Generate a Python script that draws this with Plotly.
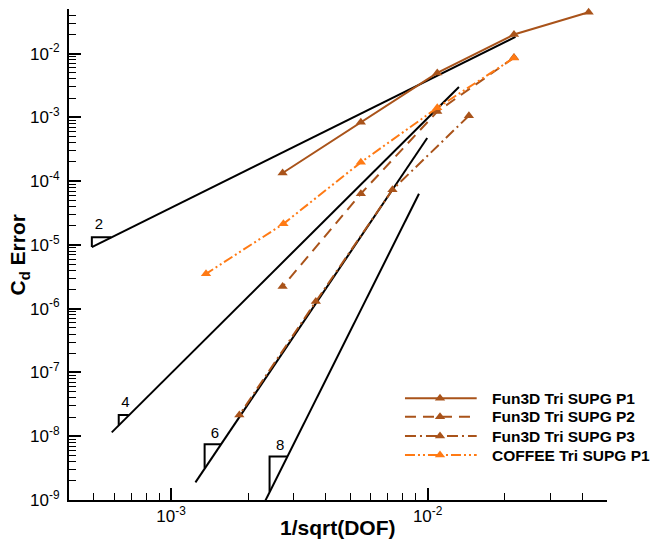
import numpy as np
import plotly.graph_objects as go

# 1/sqrt(DOF) and C_d error for each discretisation
fun3d_p1_h = [0.0424, 0.0217, 0.0109, 0.00549, 0.00272]
fun3d_p1_err = [4.45e-2, 1.99e-2, 4.98e-3, 8.35e-4, 1.34e-4]

fun3d_p2_h = [0.0217, 0.0109, 0.00549, 0.00272]
fun3d_p2_err = [8.65e-3, 1.23e-3, 6.34e-5, 2.22e-6]

fun3d_p3_h = [0.01448, 0.00729, 0.003665, 0.001845]
fun3d_p3_err = [1.06e-3, 7.33e-5, 1.29e-6, 2.15e-8]

coffee_p1_h = [0.0217, 0.0109, 0.00549, 0.00274, 0.001368]
coffee_p1_err = [8.56e-3, 1.41e-3, 1.97e-4, 2.14e-5, 3.52e-6]

series_names = ["Fun3D Tri SUPG P1", "Fun3D Tri SUPG P2",
                "Fun3D Tri SUPG P3", "COFFEE Tri SUPG P1"]

# reference slope lines (orders 2, 4, 6, 8) with their slope triangles
slope_orders = ["2", "4", "6", "8"]
slope_line_h = [[4.91e-4, 0.02199], [5.87e-4, 0.01324],
                [1.244e-3, 9.96e-3], [2.328e-3, 9.25e-3]]
slope_line_err = [[9.23e-6, 1.828e-2], [1.15e-8, 3.0e-3],
                  [1.89e-9, 4.75e-4], [9.7e-10, 6.34e-5]]
slope_tri_h = [[4.91e-4, 4.91e-4, 5.84e-4], [6.25e-4, 6.25e-4, 6.84e-4],
               [1.351e-3, 1.351e-3, 1.565e-3], [2.42e-3, 2.42e-3, 2.83e-3]]
slope_tri_err = [[9.23e-6, 1.32e-5, 1.32e-5], [1.48e-8, 2.16e-8, 2.16e-8],
                 [3.15e-9, 7.5e-9, 7.5e-9], [1.35e-9, 4.8e-9, 4.8e-9]]
slope_label_h = [5.23e-4, 6.64e-4, 1.483e-3, 2.66e-3]
slope_label_err = [2.07e-5, 3.28e-8, 1.07e-8, 6.86e-9]

# axis ticks
x_major = [1e-3, 1e-2]
x_major_text = ["10<sup>-3</sup>", "10<sup>-2</sup>"]
y_major = [1e-9, 1e-8, 1e-7, 1e-6, 1e-5, 1e-4, 1e-3, 1e-2]
y_major_text = ["10<sup>-9</sup>", "10<sup>-8</sup>", "10<sup>-7</sup>", "10<sup>-6</sup>",
                "10<sup>-5</sup>", "10<sup>-4</sup>", "10<sup>-3</sup>", "10<sup>-2</sup>"]
x_minor = [m * 1e-4 for m in range(5, 10)] + [m * 1e-3 for m in range(2, 10)] + \
          [m * 1e-2 for m in range(2, 6)]
y_minor = [m * 10.0 ** k for k in range(-9, -2) for m in range(2, 10)] + \
          [m * 1e-2 for m in range(2, 6)]

BROWN = "#A9531A"
ORANGE = "#FF7A14"
FONT = "Liberation Sans, Arial, Helvetica, sans-serif"

styles = [
    dict(color=BROWN, dash="solid"),
    dict(color=BROWN, dash="11px,7px"),
    dict(color=BROWN, dash="11px,4px,2px,4px"),
    dict(color=ORANGE, dash="10px,3px,2px,3px,2px,3px"),
]
series = [(fun3d_p1_h, fun3d_p1_err), (fun3d_p2_h, fun3d_p2_err),
          (fun3d_p3_h, fun3d_p3_err), (coffee_p1_h, coffee_p1_err)]

fig = go.Figure()

# slope reference lines and triangles
for lh, le, th, te in zip(slope_line_h, slope_line_err, slope_tri_h, slope_tri_err):
    fig.add_trace(go.Scatter(x=lh, y=le, mode="lines",
                             line=dict(color="black", width=2), hoverinfo="skip"))
    fig.add_trace(go.Scatter(x=th, y=te, mode="lines",
                             line=dict(color="black", width=2), hoverinfo="skip"))
fig.add_trace(go.Scatter(x=slope_label_h, y=slope_label_err, mode="text",
                         text=slope_orders, textposition="middle center",
                         textfont=dict(family=FONT, size=15, color="black"),
                         cliponaxis=False, hoverinfo="skip"))

# convergence curves
for (h, e), st, name in zip(series, styles, series_names):
    fig.add_trace(go.Scatter(
        x=h, y=e, mode="lines+markers", name=name,
        line=dict(color=st["color"], width=2, dash=st["dash"]),
        marker=dict(symbol="triangle-up", size=9, color=st["color"]),
        cliponaxis=False))

# legend block drawn on an overlay axis in plot-fraction units
leg_rows = [0.2071, 0.1697, 0.1303, 0.0916]
leg_x0, leg_x1, leg_xm, leg_text_x = 0.6245, 0.7578, 0.6896, 0.7825
for yrow, st, name in zip(leg_rows, styles, series_names):
    fig.add_trace(go.Scatter(
        x=[leg_x0, leg_xm, leg_x1], y=[yrow, yrow, yrow], mode="lines",
        line=dict(color=st["color"], width=2, dash=st["dash"]),
        xaxis="x2", yaxis="y2", hoverinfo="skip"))
    fig.add_trace(go.Scatter(
        x=[leg_xm], y=[yrow], mode="markers",
        marker=dict(symbol="triangle-up", size=9, color=st["color"]),
        xaxis="x2", yaxis="y2", hoverinfo="skip"))
    fig.add_annotation(x=leg_text_x, y=yrow, xref="paper", yref="paper",
                       text="<b>%s</b>" % name, showarrow=False,
                       xanchor="left", yanchor="middle",
                       font=dict(family=FONT, size=15.5, color="black"))

# axis titles
fig.add_annotation(x=0.5, y=-0.055, xref="paper", yref="paper",
                   text="<b>1/sqrt(DOF)</b>", showarrow=False,
                   xanchor="center", yanchor="middle",
                   font=dict(family=FONT, size=21, color="black"))
fig.add_annotation(x=-0.093, y=0.5, xref="paper", yref="paper",
                   text="<b>C<sub>d</sub> Error</b>", showarrow=False, textangle=-90,
                   xanchor="center", yanchor="middle",
                   font=dict(family=FONT, size=21, color="black"))

axis_common = dict(type="log", showline=True, linecolor="black", linewidth=2,
                   showgrid=False, zeroline=False, mirror=False,
                   ticks="inside", ticklen=12, tickwidth=2, tickcolor="black",
                   tickmode="array",
                   tickfont=dict(family=FONT, size=17, color="black"))

fig.update_layout(
    width=653, height=547,
    margin=dict(l=69, r=46, t=9, b=47),
    paper_bgcolor="white", plot_bgcolor="white",
    showlegend=False,
    font=dict(family=FONT, color="black"),
    xaxis=dict(axis_common, range=[np.log10(4e-4), np.log10(5e-2)],
               tickvals=x_major, ticktext=x_major_text,
               minor=dict(tickmode="array", tickvals=x_minor, ticks="inside",
                          ticklen=7, tickwidth=1.2, tickcolor="black")),
    yaxis=dict(axis_common, range=[-9, np.log10(5e-2)],
               tickvals=y_major, ticktext=y_major_text, ticklabelstandoff=4,
               minor=dict(tickmode="array", tickvals=y_minor, ticks="inside",
                          ticklen=7, tickwidth=1.2, tickcolor="black")),
    xaxis2=dict(overlaying="x", range=[0, 1], visible=False, fixedrange=True),
    yaxis2=dict(overlaying="y", range=[0, 1], visible=False, fixedrange=True),
)

fig.write_html("out.html")
